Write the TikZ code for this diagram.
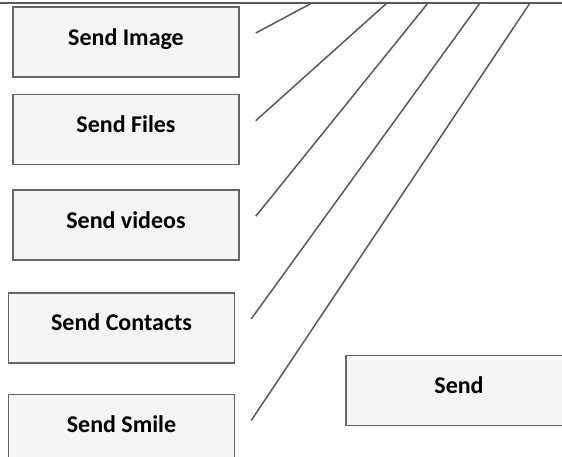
\documentclass[tikz,border=0pt]{standalone}
\usepackage{fontspec}
\setmainfont{Carlito}
\usetikzlibrary{positioning, calc}

\begin{document}
\begin{tikzpicture}[x=1pt, y=-1pt,
    sendbox/.style={rectangle, draw=black!60, line width=1.6pt, fill=black!4, minimum width=226pt, minimum height=70pt, text height=16pt, text depth=10pt, font=\fontsize{24}{28}\selectfont\bfseries},
    link/.style={draw=black!65, line width=1.5pt}
]
\useasboundingbox (0,0) rectangle (562,456);
\clip (0,0) rectangle (562,456);

% edge of the box above
\draw[link, line width=2pt] (0,3) -- (562,3);
\foreach \name/\xpos in {t1/312, t2/387, t3/428, t4/480, t5/530}
    \coordinate (\name) at (\xpos,3);

\node[sendbox] (image) at (126,42) {Send Image};
\node[sendbox, below=16pt of image] (files) {Send Files};
\node[sendbox, below=24pt of files] (videos) {Send videos};
\node[sendbox, below=31pt of videos, xshift=-4.5pt] (contacts) {Send Contacts};
\node[sendbox, below=30pt of contacts] (smile) {Send Smile};
\node[sendbox] (send) at (459,390.5) {Send};

\foreach \src/\dst in {image/t1, files/t2, videos/t3, contacts/t4, smile/t5}
    \draw[link] ($(\src.east)+(16,-9)$) -- (\dst);

\end{tikzpicture}
\end{document}
